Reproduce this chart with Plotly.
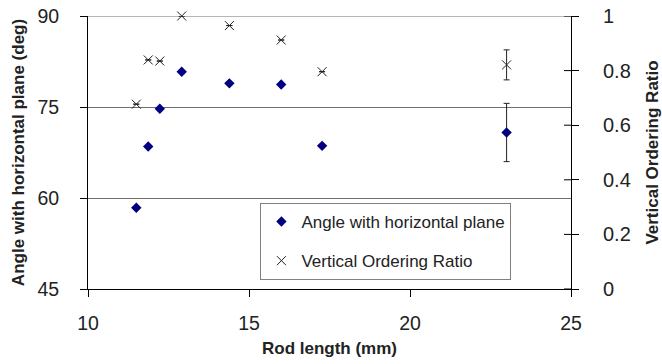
import plotly.graph_objects as go

rod_length = [11.5, 11.87, 12.23, 12.91, 14.39, 16.0, 17.27, 23.0]
angle = [58.4, 68.5, 74.7, 80.8, 78.9, 78.7, 68.6, 70.8]
angle_err = [0, 0, 0, 0, 0, 0, 0, 4.8]
ratio = [0.677, 0.839, 0.835, 1.0, 0.965, 0.912, 0.796, 0.821]
ratio_err = [0, 0, 0, 0, 0, 0, 0, 0.055]
ratio_ticks = [0, 0.2, 0.4, 0.6, 0.8, 1.0]

FONT = "Liberation Sans, Arial, sans-serif"
TXT = "#222"

fig = go.Figure()
fig.add_trace(go.Scatter(
    x=rod_length, y=angle, mode="markers", name="Angle with horizontal plane",
    marker=dict(symbol="diamond", color="#000080", size=8),
    error_y=dict(type="data", array=angle_err, visible=True, color=TXT, thickness=1, width=3),
    legendgroup="a", yaxis="y", cliponaxis=False))
fig.add_trace(go.Scatter(
    x=rod_length, y=ratio, mode="markers", name="Vertical Ordering Ratio",
    marker=dict(symbol="x-thin-open", color=TXT, size=9, line=dict(width=1, color=TXT)),
    error_y=dict(type="data", array=ratio_err, visible=True, color=TXT, thickness=1, width=3),
    legendgroup="b", yaxis="y2", cliponaxis=False))

# top gridline at 90
fig.add_shape(type="line", xref="paper", yref="y", x0=0, x1=1, y0=90, y1=90,
              line=dict(color="#6e6e6e", width=1), layer="below")
# inner halves of the right-axis cross ticks
for t in ratio_ticks:
    fig.add_shape(type="line", xref="paper", yref="y2", x0=1 - 7 / 483, x1=1, y0=t, y1=t,
                  line=dict(color="black", width=1))

fig.update_layout(
    width=662, height=364,
    margin=dict(l=88, r=91, t=16, b=75, autoexpand=False),
    paper_bgcolor="white", plot_bgcolor="white",
    font=dict(family=FONT, color=TXT),
    showlegend=True,
    legend=dict(x=0.357, y=0.315, xanchor="left", yanchor="top",
                bordercolor="#808080", borderwidth=1, bgcolor="white",
                font=dict(size=17, family=FONT, color=TXT),
                tracegroupgap=14, traceorder="grouped"),
    xaxis=dict(range=[10, 25], dtick=5, tick0=10, showgrid=False, zeroline=False, automargin=False,
               showline=True, linecolor="black", linewidth=1,
               ticks="outside", ticklen=7, tickcolor="black", ticklabelstandoff=10,
               tickfont=dict(size=19.5, family=FONT, color=TXT),
               title=dict(text="<b>Rod length (mm)</b>", font=dict(size=17, family=FONT, color=TXT), standoff=8)),
    yaxis=dict(range=[45, 90], dtick=15, tick0=45, showgrid=True, gridcolor="#6e6e6e", gridwidth=1,
               zeroline=False, showline=True, linecolor="black", linewidth=1, automargin=False,
               ticks="outside", ticklen=7, tickcolor="black", ticklabelstandoff=17,
               tickfont=dict(size=19.5, family=FONT, color=TXT),
               title=dict(text="<b>Angle with horizontal plane (deg)</b>", font=dict(size=17, family=FONT, color=TXT), standoff=8)),
    yaxis2=dict(range=[0, 1], dtick=0.2, tick0=0, overlaying="y", side="right", automargin=False,
                showgrid=False, zeroline=False, showline=True, linecolor="black", linewidth=1,
                ticks="outside", ticklen=7, tickcolor="black", ticklabelstandoff=20,
                tickfont=dict(size=20, family=FONT, color=TXT),
                title=dict(text="<b>Vertical Ordering Ratio</b>", font=dict(size=17, family=FONT, color=TXT), standoff=16)),
)

fig.write_html("out.html")
